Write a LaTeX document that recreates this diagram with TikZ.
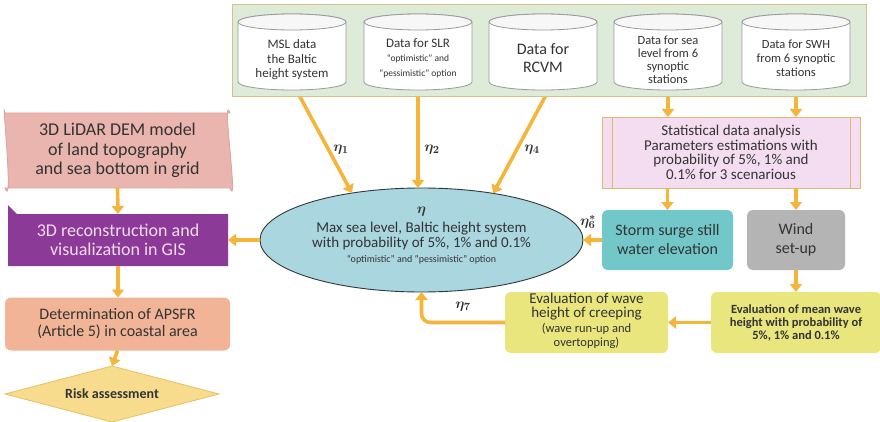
\documentclass[tikz,border=0pt]{standalone}
\usepackage{fontspec}
\usepackage{bm}
\setmainfont{Carlito}
\usetikzlibrary{arrows.meta,shapes.geometric}
\definecolor{arrc}{HTML}{F5B43A}
\definecolor{panelc}{HTML}{DDEBD8}
\definecolor{panelb}{HTML}{D2C38A}
\definecolor{cylb}{HTML}{9A9A9A}
\definecolor{statc}{HTML}{F4DDF1}
\definecolor{statb}{HTML}{E0B870}
\definecolor{ellc}{HTML}{A9D6DF}
\definecolor{ellb}{HTML}{2F3A3A}
\definecolor{stormc}{HTML}{72C8C9}
\definecolor{windc}{HTML}{B4B4B4}
\definecolor{yelc}{HTML}{E8E67C}
\definecolor{lidc}{HTML}{E9B5AE}
\definecolor{lidb}{HTML}{DDA3A0}
\definecolor{gisc}{HTML}{8C3A98}
\definecolor{gistxt}{HTML}{F2DCEC}
\definecolor{apc}{HTML}{F2B497}
\definecolor{rac}{HTML}{F7DC8D}
\definecolor{rab}{HTML}{E9C060}
\definecolor{txt}{HTML}{333333}
\newcommand\drawcyl[1]{%
  \draw[cylshape] (#1.north west) -- (#1.south west)
    arc[start angle=180,end angle=360,x radius=54pt,y radius=8pt]
    -- (#1.north east)
    arc[start angle=0,end angle=180,x radius=54pt,y radius=8pt] -- cycle;
  \draw[cylshape,fill=gray!6] (#1.north) ellipse[x radius=54pt,y radius=8pt];}
\newcommand\fs[2]{\fontsize{#1}{#2}\selectfont}
\newcommand\etab[1]{$\bm{\eta}_{\bm{#1}}$}
\tikzset{
  every node/.style={align=center,inner sep=0pt,outer sep=0pt,text=txt},
  arr/.style={draw=arrc,line width=3.6pt,-{Triangle[length=8pt,width=12pt]}},
  cylshape/.style={draw=cylb,line width=0.8pt,fill=white},
  cylbody/.style={minimum width=108pt,minimum height=60pt},
  cyltxt/.style={font=\fs{13}{14.5}},
  etalab/.style={font=\fs{15}{15}},
  rbox/.style={rounded corners=6pt,minimum height=60pt},
}
\begin{document}
\begin{tikzpicture}[x=1pt,y=-1pt]
\useasboundingbox (0,0) rectangle (880,422);
\fill[white] (0,0) rectangle (880,422);

% nodes (positions)
\node[cylbody] (c1) at (292,52) {};
\node[cylbody] (c2) at (418,52) {};
\node[cylbody] (c3) at (543,52) {};
\node[cylbody] (c4) at (668,52) {};
\node[cylbody] (c5) at (796,52) {};
\node[ellipse,draw=ellb,fill=ellc,line width=0.9pt,minimum width=323pt,minimum height=104pt] (el) at (421.5,240) {};
\node[draw=statb,fill=statc,line width=0.9pt,minimum width=258pt,minimum height=71pt] (st) at (731,152.5) {};
\node[rbox,fill=stormc,minimum width=131pt,font=\fs{16}{19}] (sg) at (667.5,240) {Storm surge still\\water elevation};
\node[rbox,fill=windc,minimum width=98pt,font=\fs{16}{19}] (wd) at (796,240) {Wind\\set-up};
\node[rbox,fill=yelc,minimum width=170pt,minimum height=61pt,font=\bfseries\fs{12.5}{13}] (em) at (796,322.5) {Evaluation of mean wave\\height with probability of\\5\%, 1\% and 0.1\%};
\node[rbox,fill=yelc,minimum width=163pt,minimum height=61pt] (ew) at (586.5,322.5) {};
\node[minimum width=225pt,minimum height=75pt] (lid) at (117.5,150.5) {};
\node[minimum width=220pt,minimum height=52pt] (gis) at (118,240) {};
\node[rbox,fill=apc,minimum width=225pt,minimum height=53pt,font=\fs{16}{17}] (ap) at (117.5,324) {Determination of APSFR\\(Article 5) in coastal area};
\node[minimum width=214pt,minimum height=56pt] (ra) at (112,394) {};

% arrows from the data panel (drawn first, panel covers their tails)
\draw[arr] (c1.south) -- (el.146);
\draw[arr] (c2.south) -- (c2.south |- el.north);
\draw[arr] ([xshift=10pt]c3.south) -- (el.33);
\draw[arr] (c4.south) -- (c4.south |- st.north);
\draw[arr] (c5.south) -- (c5.south |- st.north);

% data panel
\node[draw=panelb,fill=panelc,line width=1pt,minimum width=634pt,minimum height=92pt] (panel) at (549,51) {};
\drawcyl{c1}\drawcyl{c2}\drawcyl{c3}\drawcyl{c4}\drawcyl{c5}
\node[cyltxt] (c1t) at (292,60) {MSL data\\the Baltic\\height system};
\node[cyltxt] (c2t) at (418,58) {Data for SLR\\{\fs{9.5}{10.5}“optimistic” and}\\{\fs{9.5}{10.5}“pessimistic” option}};
\node[font=\fs{16}{18}] (c3t) at (543,58) {Data for\\RCVM};
\node[font=\fs{12.5}{13}] (c4t) at (668,60) {Data for sea\\level from 6\\synoptic\\stations};
\node[font=\fs{12.5}{14}] (c5t) at (796,58) {Data for SWH\\from 6 synoptic\\stations};

% statistical box
\draw[statb,line width=0.9pt] ([xshift=10pt]st.north west) -- ([xshift=10pt]st.south west)
  ([xshift=-10pt]st.north east) -- ([xshift=-10pt]st.south east);
\node[font=\fs{15}{14.5}] (stt) at (st.center) {Statistical data analysis\\Parameters estimations with\\probability of 5\%, 1\% and\\0.1\% for 3 scenarious};

% ellipse text
\node[font=\fs{15}{15}] (elt) at (421.5,236) {$\bm{\eta}$\\[4pt]Max sea level, Baltic height system\\with probability of 5\%, 1\% and 0.1\%\\{\fs{10}{12}“optimistic” and “pessimistic” option}};

% eval wave text
\node[font=\fs{15}{14.5}] (ewt) at (586.5,321) {Evaluation of wave\\height of creeping\\{\fs{12.5}{13}(wave run-up and}\\{\fs{12.5}{13}overtopping)}};

% left column shapes
\draw[draw=lidb,fill=lidc,line width=0.8pt] (lid.north west) -- (lid.north east)
  .. controls ([xshift=-9pt,yshift=25pt]lid.north east) and ([xshift=9pt,yshift=-25pt]lid.south east) .. (lid.south east)
  -- (lid.south west)
  .. controls ([xshift=9pt,yshift=-25pt]lid.south west) and ([xshift=-4pt,yshift=25pt]lid.north west) .. (lid.north west) -- cycle;
\node[font=\fs{18}{19.5}] (lidt) at (lid.center) {3D LiDAR DEM model\\of land topography\\and sea bottom in grid};
\fill[gisc] ([xshift=9pt]gis.north west) -- (gis.north east) -- (gis.south east) -- (gis.south west) -- ([yshift=9pt]gis.north west) -- cycle;
\node[font=\fs{18}{19},text=gistxt] (gist) at (gis.center) {3D reconstruction and\\visualization in GIS};
\draw[draw=rab,fill=rac,line width=0.8pt] (ra.west) -- (ra.north) -- (ra.east) -- (ra.south) -- cycle;
\node[font=\bfseries\fs{14}{14}] (rat) at (ra.center) {Risk assessment};

% other connectors
\draw[arr] (sg.west) -- (sg.west -| el.east);
\draw[arr] (el.west) -- (el.west -| gis.east);
\draw[arr] (st.south -| sg.north) -- (sg.north);
\draw[arr] (st.south -| wd.north) -- (wd.north);
\draw[arr] (wd.south) -- (wd.south |- em.north);
\draw[arr] (em.west) -- (em.west -| ew.east);
\draw[arr,rounded corners=9pt] (ew.west) -| (el.south);
\draw[arr] (lid.south) -- (gis.north);
\draw[arr] (gis.south) -- (gis.south |- ap.north);
\draw[arr] (ap.south) -- (ra.north);

% eta labels
\node[etalab] (e1) at (341,150) {\etab{1}};
\node[etalab] (e2) at (432,150) {\etab{2}};
\node[etalab] (e4) at (532,150) {\etab{4}};
\node[etalab] (e6) at (588,222) {$\bm{\eta}_{\bm{6}}^{\bm{*}}$};
\node[etalab] (e7) at (463,307) {\etab{7}};
\end{tikzpicture}
\end{document}
